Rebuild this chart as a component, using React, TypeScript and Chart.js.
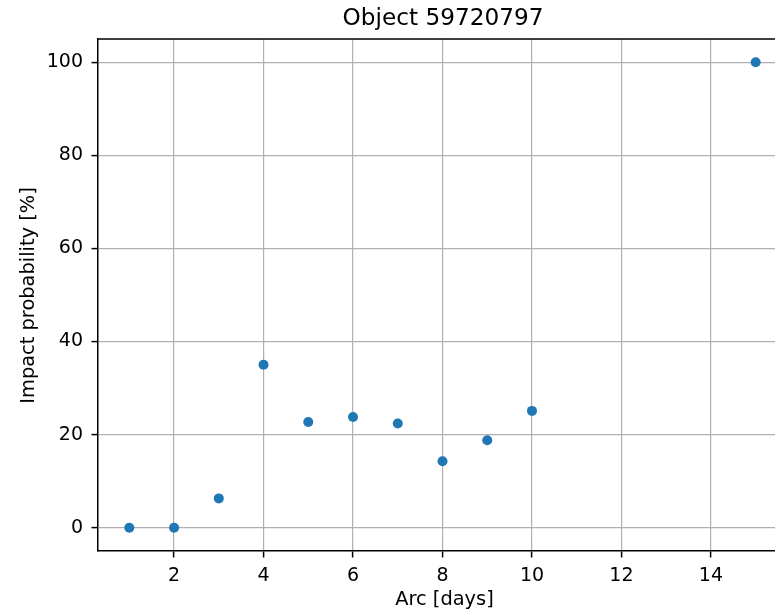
import React, { useEffect, useRef } from "react";
import { Chart, registerables } from "chart.js";

Chart.register(...registerables);

const arcDays = [1, 2, 3, 4, 5, 6, 7, 8, 9, 10, 15];
const impactProb = [0, 0, 6.3, 35, 22.7, 23.8, 22.4, 14.3, 18.8, 25.1, 100];
const xTicks = [2, 4, 6, 8, 10, 12, 14];
const yTicks = [0, 20, 40, 60, 80, 100];
const titleText = "Object 59720797";
const xLabel = "Arc [days]";
const yLabel = "Impact probability [%]";

const FONT = "'DejaVu Sans', sans-serif";

const framePlugin = {
  id: "frameAndTexts",
  afterDraw(chart: any) {
    const { ctx, chartArea } = chart;
    const { left, right, top, bottom } = chartArea;
    ctx.save();
    ctx.strokeStyle = "#000";
    ctx.lineWidth = 1.5;
    ctx.beginPath();
    ctx.moveTo(left, top);
    ctx.lineTo(right, top);
    ctx.lineTo(right, bottom);
    ctx.stroke();
    ctx.fillStyle = "#000";
    ctx.textAlign = "center";
    ctx.textBaseline = "middle";
    const cx = (left + right) / 2;
    ctx.font = `23.2px ${FONT}`;
    ctx.fillText(titleText, cx + 0.5, 18.5);
    ctx.font = `19.4px ${FONT}`;
    ctx.fillText(xLabel, cx + 2, 600);
    ctx.translate(29, 295.5);
    ctx.rotate(-Math.PI / 2);
    ctx.fillText(yLabel, 0, 0);
    ctx.restore();
  },
};

export default function App() {
  const ref = useRef<HTMLCanvasElement | null>(null);
  useEffect(() => {
    if (!ref.current) return;
    const chart = new Chart(ref.current, {
      type: "scatter",
      data: {
        datasets: [
          {
            data: arcDays.map((x, i) => ({ x, y: impactProb[i] })),
            backgroundColor: "#1f77b4",
            borderWidth: 0,
            pointRadius: 5,
          },
        ],
      },
      options: {
        responsive: false,
        animation: false,
        devicePixelRatio: 1,
        layout: { padding: { left: 0, top: 39, right: 13, bottom: 0 } },
        plugins: {
          legend: { display: false },
          title: { display: false },
          tooltip: { enabled: false },
        },
        scales: {
          x: {
            type: "linear",
            min: 0.3,
            max: 15.7,
            z: 1,
            afterBuildTicks: (s: any) => {
              s.ticks = xTicks.map((v) => ({ value: v }));
            },
            afterFit: (s: any) => {
              s.height = 62;
            },
            ticks: {
              font: { family: FONT, size: 19 },
              color: "#000",
              padding: 7.5,
              maxRotation: 0,
              autoSkip: false,
            },
            grid: {
              color: "#b0b0b0",
              lineWidth: 1.2,
              tickColor: "#000",
              tickLength: 6.5,
              tickWidth: 1.5,
            },
            border: { color: "#000", width: 1.5 },
          },
          y: {
            type: "linear",
            min: -5,
            max: 105,
            z: 1,
            afterBuildTicks: (s: any) => {
              s.ticks = yTicks.map((v) => ({ value: v }));
            },
            afterFit: (s: any) => {
              s.width = 98;
            },
            ticks: {
              font: { family: FONT, size: 19 },
              color: "#000",
              padding: 8.5,
              autoSkip: false,
            },
            grid: {
              color: "#b0b0b0",
              lineWidth: 1.2,
              tickColor: "#000",
              tickLength: 6.5,
              tickWidth: 1.5,
            },
            border: { color: "#000", width: 1.5 },
          },
        },
      },
      plugins: [framePlugin],
    });
    return () => chart.destroy();
  }, []);
  return (
    <div
      style={{
        position: "absolute",
        left: 0,
        top: 0,
        width: 775,
        height: 613,
        overflow: "hidden",
        background: "#fff",
      }}
    >
      <canvas ref={ref} width={800} height={613} style={{ display: "block" }} />
    </div>
  );
}
